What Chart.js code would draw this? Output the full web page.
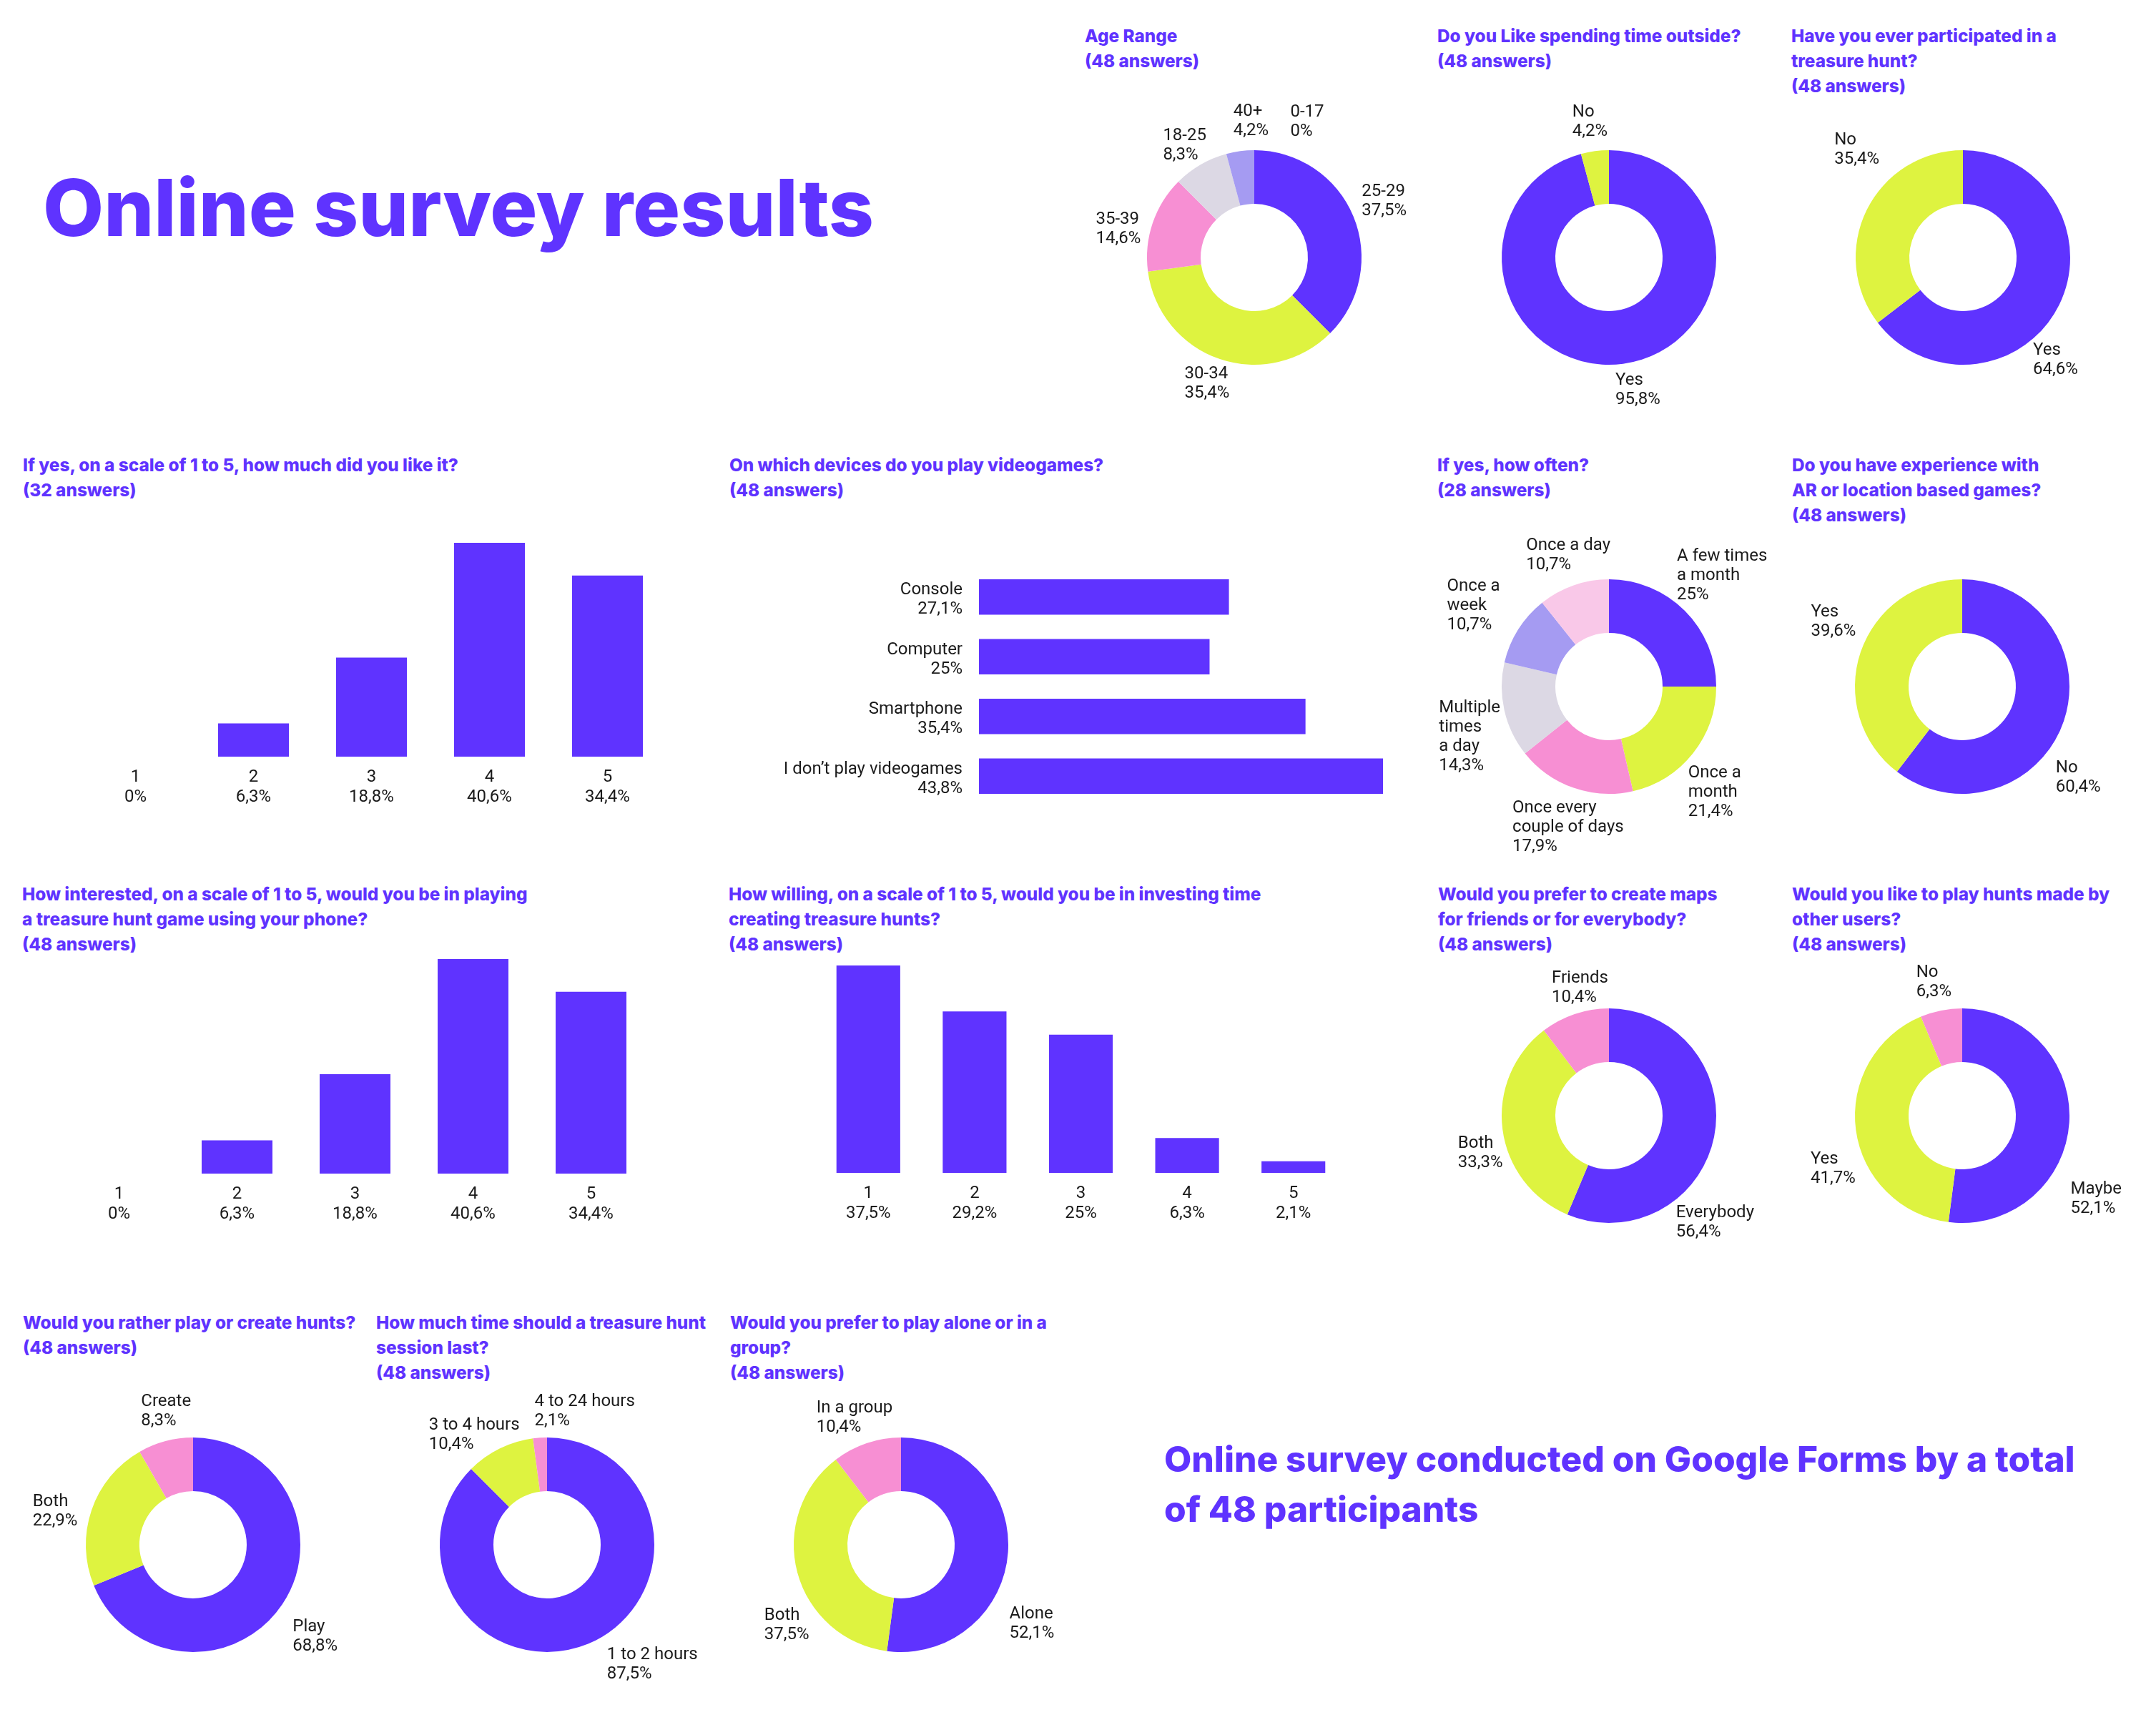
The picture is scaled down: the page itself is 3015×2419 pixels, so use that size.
<!DOCTYPE html>
<html><head><meta charset="utf-8">
<script src="https://cdn.jsdelivr.net/npm/chart.js@4.4.1/dist/chart.umd.min.js"></script>
<style>
html,body{margin:0;padding:0;background:#fff;}
#page{position:relative;width:3015px;height:2419px;overflow:hidden;background:#fff;}
.ttl{position:absolute;color:#5F33FF;font-family:Inter,'Open Sans',sans-serif;font-weight:800;white-space:nowrap;line-height:35px;}
.big{position:absolute;color:#5F33FF;font-family:Inter,'Open Sans',sans-serif;white-space:nowrap;}
canvas{position:absolute;}
</style></head><body><div id="page"></div>
<script>
// ---------- data ----------
const ageLabels = ['25-29', '30-34', '35-39', '18-25', '40+', '0-17'];
const ageValues = [37.5, 35.4, 14.6, 8.3, 4.2, 0];
const outsideLabels = ['Yes', 'No'];
const outsideValues = [95.8, 4.2];
const huntLabels = ['Yes', 'No'];
const huntValues = [64.6, 35.4];
const likeLabels = ['1', '2', '3', '4', '5'];
const likeValues = [0, 6.3, 18.8, 40.6, 34.4];
const deviceLabels = ['Console', 'Computer', 'Smartphone', 'I don’t play videogames'];
const deviceValues = [27.1, 25, 35.4, 43.8];
const oftenLabels = ['A few times a month', 'Once a month', 'Once every couple of days', 'Multiple times a day', 'Once a week', 'Once a day'];
const oftenValues = [25, 21.4, 17.9, 14.3, 10.7, 10.7];
const arLabels = ['No', 'Yes'];
const arValues = [60.4, 39.6];
const interestLabels = ['1', '2', '3', '4', '5'];
const interestValues = [0, 6.3, 18.8, 40.6, 34.4];
const willingLabels = ['1', '2', '3', '4', '5'];
const willingValues = [37.5, 29.2, 25, 6.3, 2.1];
const mapsLabels = ['Everybody', 'Both', 'Friends'];
const mapsValues = [56.4, 33.3, 10.4];
const othersLabels = ['Maybe', 'Yes', 'No'];
const othersValues = [52.1, 41.7, 6.3];
const playCreateLabels = ['Play', 'Both', 'Create'];
const playCreateValues = [68.8, 22.9, 8.3];
const sessionLabels = ['1 to 2 hours', '3 to 4 hours', '4 to 24 hours'];
const sessionValues = [87.5, 10.4, 2.1];
const groupLabels = ['Alone', 'Both', 'In a group'];
const groupValues = [52.1, 37.5, 10.4];

// ---------- style ----------
const PURPLE = '#5F33FF', YELLOW = '#DEF340', PINK = '#F78FD3', GREY = '#DCD8E4', LAVENDER = '#A59BF2', LIGHTPINK = '#F9C8E8';
const TEXT = '#1b1b1b';
Chart.defaults.font.family = 'Roboto';
Chart.defaults.color = TEXT;

const page = document.getElementById('page');
const fmtPct = v => String(v).replace('.', ',') + '%';

function makeCanvas(left, top, w, h) {
  const c = document.createElement('canvas');
  c.width = w; c.height = h;
  c.style.left = left + 'px'; c.style.top = top + 'px';
  c.style.width = w + 'px'; c.style.height = h + 'px';
  page.appendChild(c);
  return c;
}

// build a chart so that its plot area lands on the wanted box
function placedChart(makeConfig, left, top, w, h, guessW, guessH) {
  let c = makeCanvas(left, top, guessW, guessH);
  let ch = new Chart(c, makeConfig());
  let ca = ch.chartArea;
  const nw = Math.round(guessW + w - (ca.right - ca.left));
  const nh = Math.round(guessH + h - (ca.bottom - ca.top));
  if (nw !== guessW || nh !== guessH) {
    ch.destroy(); c.remove();
    c = makeCanvas(left, top, nw, nh);
    ch = new Chart(c, makeConfig());
    ca = ch.chartArea;
  }
  c.style.left = (left - ca.left) + 'px';
  c.style.top = (top - ca.top) + 'px';
  return ch;
}

function labelPlugin(cfg) {
  return {
    id: 'outerLabels',
    afterDatasetsDraw(chart) {
      const ctx = chart.ctx;
      const meta = chart.getDatasetMeta(0);
      const data = chart.data.datasets[0].data;
      const LH = 27, PAD = 12;
      ctx.save();
      ctx.font = '24px Roboto';
      ctx.fillStyle = TEXT;
      ctx.textAlign = 'left';
      ctx.textBaseline = 'middle';
      meta.data.forEach((arc, i) => {
        const p = arc.getProps(['x', 'y', 'startAngle', 'endAngle', 'outerRadius'], true);
        const mid = (p.startAngle + p.endAngle) / 2;
        const ux = Math.cos(mid), uy = Math.sin(mid);
        const name = chart.data.labels[i];
        const lines = (cfg.lines && cfg.lines[name]) ? cfg.lines[name].slice() : [name];
        lines.push(fmtPct(data[i]));
        const w = Math.max(...lines.map(l => ctx.measureText(l).width));
        const h = lines.length * LH;
        const r = p.outerRadius + PAD;
        const off = (cfg.offsets && cfg.offsets[i]) || [0, 0];
        const cx = p.x + ux * r + ux * w / 2 + off[0];
        const cy = p.y + uy * r + uy * h / 2 + off[1];
        lines.forEach((l, k) => ctx.fillText(l, cx - w / 2, cy - h / 2 + LH * (k + 0.5)));
      });
      ctx.restore();
    }
  };
}

function donut(cx, cy, labels, values, colors, cfg) {
  const S = 480, R = 150;
  const c = makeCanvas(cx - S / 2, cy - S / 2, S, S);
  new Chart(c, {
    type: 'doughnut',
    data: { labels: labels, datasets: [{ data: values, backgroundColor: colors, borderWidth: 0, hoverOffset: 0, offset: 0 }] },
    options: {
      responsive: false, maintainAspectRatio: false, animation: false, events: [],
      cutout: '50%', spacing: 0,
      layout: { padding: (S - 2 * R) / 2 },
      plugins: { legend: { display: false }, tooltip: { enabled: false } }
    },
    plugins: [labelPlugin(cfg || {})]
  });
}

function vbars(left, top, w, h, labels, values) {
  const cfg = () => ({
    type: 'bar',
    data: { labels: labels, datasets: [{ data: values, backgroundColor: PURPLE, borderWidth: 0, barPercentage: 0.6, categoryPercentage: 1 }] },
    options: {
      responsive: false, maintainAspectRatio: false, animation: false, events: [],
      plugins: { legend: { display: false }, tooltip: { enabled: false } },
      scales: {
        x: {
          grid: { display: false, drawTicks: false }, border: { display: false },
          ticks: {
            padding: 15, color: TEXT, font: { family: 'Roboto', size: 24, lineHeight: 28 / 24 },
            maxRotation: 0, autoSkip: false,
            callback: function (v, i) { return [this.getLabelForValue(v), fmtPct(values[i])]; }
          },
          afterFit: s => { s.height = 80; }
        },
        y: { display: false, min: 0, max: Math.max(...values) }
      }
    }
  });
  placedChart(cfg, left, top, w, h, w, h + 80);
}

function hbars(areaLeft, top, w, h, labels, values) {
  const LW = 300;
  const cfg = () => ({
    type: 'bar',
    data: { labels: labels, datasets: [{ data: values, backgroundColor: PURPLE, borderWidth: 0, barPercentage: 0.593, categoryPercentage: 1 }] },
    options: {
      indexAxis: 'y', responsive: false, maintainAspectRatio: false, animation: false, events: [],
      plugins: { legend: { display: false }, tooltip: { enabled: false } },
      scales: {
        y: {
          grid: { display: false, drawTicks: false }, border: { display: false },
          ticks: {
            padding: 23, labelOffset: 4, color: TEXT, font: { family: 'Roboto', size: 24, lineHeight: 27 / 24 },
            autoSkip: false,
            callback: function (v, i) { return [this.getLabelForValue(v), fmtPct(values[i])]; }
          },
          afterFit: s => { s.width = LW; }
        },
        x: { display: false, min: 0, max: Math.max(...values) }
      }
    }
  });
  placedChart(cfg, areaLeft, top, w, h, w + LW, h + 100);
}

// ---------- titles ----------
const mctx = document.createElement('canvas').getContext('2d');
function fit(text, weight, target) {
  mctx.font = weight + ' 100px Inter';
  return 100 * target / mctx.measureText(text).width;
}
const tSize = fit('If yes, on a scale of 1 to 5, how much did you like it?', 800, 611);
const titles = [
  [1517, 32.5, ['Age Range', '(48 answers)']],
  [2010, 32.5, ['Do you Like spending time outside?', '(48 answers)']],
  [2505, 32.5, ['Have you ever participated in a', 'treasure hunt?', '(48 answers)']],
  [32, 632.5, ['If yes, on a scale of 1 to 5, how much did you like it?', '(32 answers)']],
  [1020, 632.5, ['On which devices do you play videogames?', '(48 answers)']],
  [2010, 632.5, ['If yes, how often?', '(28 answers)']],
  [2506, 632.5, ['Do you have experience with', 'AR or location based games?', '(48 answers)']],
  [31, 1232.5, ['How interested, on a scale of 1 to 5, would you be in playing', 'a treasure hunt game using your phone?', '(48 answers)']],
  [1019, 1232.5, ['How willing, on a scale of 1 to 5, would you be in investing time', 'creating treasure hunts?', '(48 answers)']],
  [2011, 1232.5, ['Would you prefer to create maps', 'for friends or for everybody?', '(48 answers)']],
  [2506, 1232.5, ['Would you like to play hunts made by', 'other users?', '(48 answers)']],
  [32, 1831.5, ['Would you rather play or create hunts?', '(48 answers)']],
  [526, 1831.5, ['How much time should a treasure hunt', 'session last?', '(48 answers)']],
  [1021, 1831.5, ['Would you prefer to play alone or in a', 'group?', '(48 answers)']]
];
titles.forEach(([x, y, lines]) => {
  const d = document.createElement('div');
  d.className = 'ttl';
  d.style.left = x + 'px'; d.style.top = y + 'px';
  d.style.fontSize = tSize.toFixed(2) + 'px';
  d.innerHTML = lines.join('<br>');
  page.appendChild(d);
});

const mainSize = fit('Online survey results', 800, 1162);
const main = document.createElement('div');
main.className = 'big';
main.style.fontWeight = 800;
main.style.fontSize = mainSize + 'px';
main.style.lineHeight = mainSize + 'px';
main.style.left = '60px';
main.style.top = (330 - 0.864 * mainSize) + 'px';
main.textContent = 'Online survey results';
page.appendChild(main);

const footSize = fit('Online survey conducted on Google Forms by a total', 800, 1274);
const foot = document.createElement('div');
foot.className = 'big';
foot.style.fontWeight = 800;
foot.style.fontSize = footSize + 'px';
foot.style.lineHeight = '70px';
foot.style.left = '1628px';
foot.style.top = (2058 - 35 - 0.364 * footSize) + 'px';
foot.innerHTML = 'Online survey conducted on Google Forms by a total<br>of 48 participants';
page.appendChild(foot);

// ---------- charts ----------
donut(1754, 360, ageLabels, ageValues, [PURPLE, YELLOW, PINK, GREY, LAVENDER, LIGHTPINK],
  { offsets: [[3, -6], [-4, -3], [-7, 21], [-1, 7], [20, -3], [74, -1]] });
donut(2250, 360, outsideLabels, outsideValues, [PURPLE, YELLOW],
  { offsets: [[15, -2], [-2, -2]] });
donut(2745, 360, huntLabels, huntValues, [PURPLE, YELLOW],
  { offsets: [[-44, 60], [25, -67]] });

vbars(107, 759, 825, 299, likeLabels, likeValues);
hbars(1369, 793, 565, 334, deviceLabels, deviceValues);

donut(2250, 960, oftenLabels, oftenValues, [PURPLE, YELLOW, PINK, GREY, LAVENDER, LIGHTPINK],
  {
    offsets: [[-1, -12], [-8, 22], [22, 6], [5, 23], [-21, -5], [16, -5]],
    lines: {
      'A few times a month': ['A few times', 'a month'],
      'Once a month': ['Once a', 'month'],
      'Once every couple of days': ['Once every', 'couple of days'],
      'Multiple times a day': ['Multiple', 'times', 'a day'],
      'Once a week': ['Once a', 'week']
    }
  });
donut(2744, 960, arLabels, arValues, [PURPLE, YELLOW],
  { offsets: [[-21, 67], [3, -30]] });

vbars(84, 1341, 825, 299.5, interestLabels, interestValues);
vbars(1140, 1350, 742.5, 290, willingLabels, willingValues);

donut(2250, 1560, mapsLabels, mapsValues, [PURPLE, YELLOW, PINK],
  { offsets: [[-64, 112], [12, 29], [24, 1]] });
donut(2744, 1560, othersLabels, othersValues, [PURPLE, YELLOW, PINK],
  { offsets: [[-10, 104], [11, 49], [-3, -1]] });

donut(270, 2160, playCreateLabels, playCreateValues, [PURPLE, YELLOW, PINK],
  { offsets: [[10, 23], [-10, 15], [13, -4]] });
donut(765, 2160, sessionLabels, sessionValues, [PURPLE, YELLOW, PINK],
  { offsets: [[61, -7], [-2, 16], [68, 2]] });
donut(1260, 2160, groupLabels, groupValues, [PURPLE, YELLOW, PINK],
  { offsets: [[-10, 98], [27, 64], [4, 2]] });
</script>
</body></html>
